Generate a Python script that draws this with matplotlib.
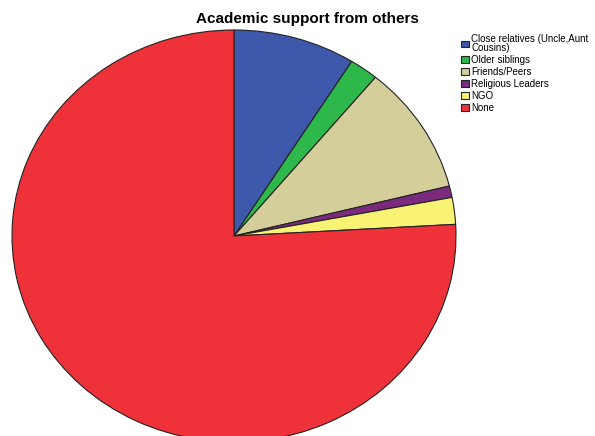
import matplotlib
matplotlib.use("Agg")
import matplotlib.pyplot as plt

plt.rcParams['font.family'] = ['Liberation Sans', 'DejaVu Sans']

# Data (percent of respondents)
categories = ["Close relatives (Uncle,Aunt\nCousins)", "Older siblings", "Friends/Peers",
              "Religious Leaders", "NGO", "None"]
shares = [8.9, 2.1, 10.1, 0.9, 2.1, 75.9]
colors = ["#3E59AB", "#2EB84C", "#D4CF9A", "#7B2A7E", "#F8F373", "#EF3239"]

W, H = 595, 436
fig = plt.figure(figsize=(W / 100, H / 100), dpi=100)

# pie is stretched into an ellipse, like the original
cx, cy, rx, ry = 234, 236, 222, 206
ax = fig.add_axes([(cx - rx) / W, (H - cy - ry) / H, 2 * rx / W, 2 * ry / H])
wedges, _ = ax.pie(shares, colors=colors, startangle=90, counterclock=False,
                   wedgeprops=dict(edgecolor="#222222", linewidth=0.8))
ax.set_aspect('auto')
ax.set_xlim(-1, 1)
ax.set_ylim(-1, 1)
ax.axis('off')

fig.text(307 / W, 1 - 19 / H, "Academic support from others", ha='center', va='center',
         fontsize=11, fontweight='bold')

leg = fig.legend(wedges, categories, loc='upper left', bbox_to_anchor=(461 / W, 1 - 34 / H),
                 frameon=False, fontsize=7, handlelength=0.8, handleheight=0.7,
                 handletextpad=0.25, labelspacing=0.2, borderaxespad=0, borderpad=0)
for t in leg.get_texts():
    t.set_linespacing(0.85)

fig.savefig("out.png", dpi=100)
